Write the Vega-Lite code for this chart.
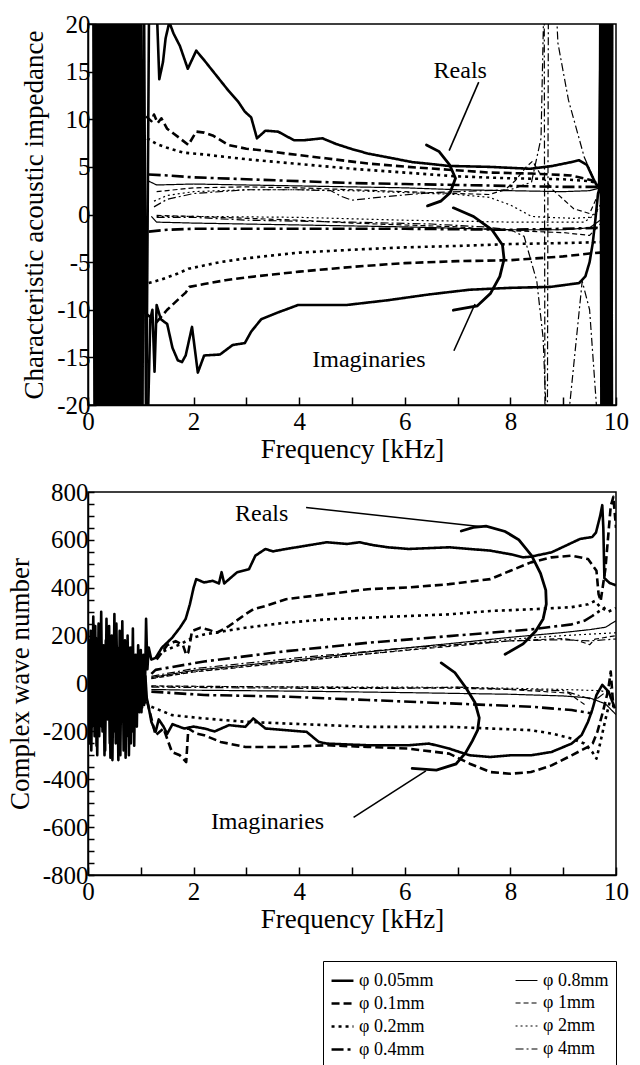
{
"$schema": "https://vega.github.io/schema/vega-lite/v6.json",
"padding": {"left": 5, "top": 11, "right": 5, "bottom": 1},
"background": "white",
"config": {
  "font": "Liberation Serif",
  "view": {"stroke": "black", "strokeWidth": 1.5},
  "axis": {"domainColor": "black", "domainWidth": 1.5, "tickColor": "black", "tickWidth": 1.5, "tickSize": -8, "labelColor": "black", "titleColor": "black", "labelFont": "Liberation Serif", "titleFont": "Liberation Serif", "labelFontSize": 25, "titleFontSize": 27, "titleFontWeight": "normal", "grid": false, "labelOverlap": false, "labelFlush": false}
},
"datasets": {
"z": [
{"d":"0.05","c":"R","f":0.1,"v":25},{"d":"0.05","c":"R","f":0.125,"v":-25},{"d":"0.05","c":"R","f":0.15,"v":25},{"d":"0.05","c":"R","f":0.175,"v":-25},{"d":"0.05","c":"R","f":0.2,"v":25},{"d":"0.05","c":"R","f":0.225,"v":-25},{"d":"0.05","c":"R","f":0.25,"v":25},{"d":"0.05","c":"R","f":0.275,"v":-25},{"d":"0.05","c":"R","f":0.3,"v":25},{"d":"0.05","c":"R","f":0.325,"v":-25},{"d":"0.05","c":"R","f":0.35,"v":25},{"d":"0.05","c":"R","f":0.375,"v":-25},{"d":"0.05","c":"R","f":0.4,"v":25},{"d":"0.05","c":"R","f":0.425,"v":-25},{"d":"0.05","c":"R","f":0.45,"v":25},{"d":"0.05","c":"R","f":0.475,"v":-25},{"d":"0.05","c":"R","f":0.5,"v":25},{"d":"0.05","c":"R","f":0.525,"v":-25},{"d":"0.05","c":"R","f":0.55,"v":25},{"d":"0.05","c":"R","f":0.575,"v":-25},{"d":"0.05","c":"R","f":0.6,"v":25},{"d":"0.05","c":"R","f":0.625,"v":-25},{"d":"0.05","c":"R","f":0.65,"v":25},{"d":"0.05","c":"R","f":0.675,"v":-25},{"d":"0.05","c":"R","f":0.7,"v":25},{"d":"0.05","c":"R","f":0.725,"v":-25},{"d":"0.05","c":"R","f":0.75,"v":25},{"d":"0.05","c":"R","f":0.775,"v":-25},{"d":"0.05","c":"R","f":0.8,"v":25},{"d":"0.05","c":"R","f":0.825,"v":-25},{"d":"0.05","c":"R","f":0.85,"v":25},{"d":"0.05","c":"R","f":0.875,"v":-25},{"d":"0.05","c":"R","f":0.9,"v":25},{"d":"0.05","c":"R","f":0.925,"v":-25},{"d":"0.05","c":"R","f":0.95,"v":25},{"d":"0.05","c":"R","f":0.975,"v":-25},{"d":"0.05","c":"R","f":1.0,"v":25},{"d":"0.05","c":"R","f":1.03,"v":-25},{"d":"0.05","c":"R","f":1.06,"v":25},{"d":"0.05","c":"R","f":1.1,"v":-25},{"d":"0.05","c":"R","f":1.16,"v":25},{"d":"0.05","c":"R","f":1.3,"v":22},{"d":"0.05","c":"R","f":1.35,"v":14.2},{"d":"0.05","c":"R","f":1.42,"v":16},{"d":"0.05","c":"R","f":1.47,"v":18.5},{"d":"0.05","c":"R","f":1.54,"v":20.2},{"d":"0.05","c":"R","f":1.62,"v":19},{"d":"0.05","c":"R","f":1.74,"v":17.7},{"d":"0.05","c":"R","f":1.89,"v":15.3},{"d":"0.05","c":"R","f":2.05,"v":17.2},{"d":"0.05","c":"R","f":2.2,"v":16.2},{"d":"0.05","c":"R","f":2.43,"v":14.6},{"d":"0.05","c":"R","f":2.66,"v":13},{"d":"0.05","c":"R","f":2.85,"v":11.8},{"d":"0.05","c":"R","f":2.97,"v":10.8},{"d":"0.05","c":"R","f":3.09,"v":10.2},{"d":"0.05","c":"R","f":3.2,"v":8},{"d":"0.05","c":"R","f":3.36,"v":8.8},{"d":"0.05","c":"R","f":3.6,"v":8.7},{"d":"0.05","c":"R","f":3.9,"v":7.8},{"d":"0.05","c":"R","f":4.1,"v":7.8},{"d":"0.05","c":"R","f":4.44,"v":8},{"d":"0.05","c":"R","f":4.7,"v":7.4},{"d":"0.05","c":"R","f":4.98,"v":6.9},{"d":"0.05","c":"R","f":5.3,"v":6.4},{"d":"0.05","c":"R","f":5.68,"v":6},{"d":"0.05","c":"R","f":6.14,"v":5.5},{"d":"0.05","c":"R","f":6.5,"v":5.3},{"d":"0.05","c":"R","f":6.83,"v":5.1},{"d":"0.05","c":"R","f":7.6,"v":5},{"d":"0.05","c":"R","f":8.38,"v":4.8},{"d":"0.05","c":"R","f":8.8,"v":5.1},{"d":"0.05","c":"R","f":9.15,"v":5.5},{"d":"0.05","c":"R","f":9.3,"v":5.7},{"d":"0.05","c":"R","f":9.45,"v":5.2},{"d":"0.05","c":"R","f":9.55,"v":4},{"d":"0.05","c":"R","f":9.62,"v":3.2},{"d":"0.05","c":"R","f":9.68,"v":2.8},{"d":"0.05","c":"R","f":9.72,"v":25},{"d":"0.05","c":"R","f":9.735,"v":-25},{"d":"0.05","c":"R","f":9.75,"v":25},{"d":"0.05","c":"R","f":9.765,"v":-25},{"d":"0.05","c":"R","f":9.78,"v":25},{"d":"0.05","c":"R","f":9.795,"v":-25},{"d":"0.05","c":"R","f":9.81,"v":25},{"d":"0.05","c":"R","f":9.825,"v":-25},{"d":"0.05","c":"R","f":9.84,"v":25},{"d":"0.05","c":"R","f":9.855,"v":-25},{"d":"0.05","c":"R","f":9.87,"v":25},{"d":"0.05","c":"R","f":9.885,"v":-25},{"d":"0.05","c":"R","f":9.9,"v":25},{"d":"0.05","c":"R","f":9.915,"v":-25},{"d":"0.05","c":"R","f":9.93,"v":25},
{"d":"0.05","c":"I","f":1.12,"v":-25},{"d":"0.05","c":"I","f":1.18,"v":-11},{"d":"0.05","c":"I","f":1.22,"v":-10},{"d":"0.05","c":"I","f":1.26,"v":-16.5},{"d":"0.05","c":"I","f":1.3,"v":-9.5},{"d":"0.05","c":"I","f":1.38,"v":-11},{"d":"0.05","c":"I","f":1.5,"v":-11.5},{"d":"0.05","c":"I","f":1.6,"v":-14},{"d":"0.05","c":"I","f":1.7,"v":-15.3},{"d":"0.05","c":"I","f":1.78,"v":-15.5},{"d":"0.05","c":"I","f":1.85,"v":-14.8},{"d":"0.05","c":"I","f":1.97,"v":-11.8},{"d":"0.05","c":"I","f":2.08,"v":-16.6},{"d":"0.05","c":"I","f":2.2,"v":-14.8},{"d":"0.05","c":"I","f":2.5,"v":-14.7},{"d":"0.05","c":"I","f":2.74,"v":-13.7},{"d":"0.05","c":"I","f":2.97,"v":-13.5},{"d":"0.05","c":"I","f":3.09,"v":-12.3},{"d":"0.05","c":"I","f":3.28,"v":-11},{"d":"0.05","c":"I","f":3.59,"v":-10.3},{"d":"0.05","c":"I","f":3.98,"v":-9.5},{"d":"0.05","c":"I","f":4.9,"v":-9.5},{"d":"0.05","c":"I","f":5.68,"v":-9},{"d":"0.05","c":"I","f":6.45,"v":-8.4},{"d":"0.05","c":"I","f":7.22,"v":-7.9},{"d":"0.05","c":"I","f":8,"v":-7.7},{"d":"0.05","c":"I","f":8.76,"v":-7.6},{"d":"0.05","c":"I","f":9.3,"v":-7.2},{"d":"0.05","c":"I","f":9.42,"v":-6.5},{"d":"0.05","c":"I","f":9.5,"v":-5},{"d":"0.05","c":"I","f":9.56,"v":-3},{"d":"0.05","c":"I","f":9.61,"v":-0.5},{"d":"0.05","c":"I","f":9.66,"v":2.2},{"d":"0.05","c":"I","f":9.69,"v":2.8},{"d":"0.05","c":"I","f":9.705,"v":25},{"d":"0.05","c":"I","f":9.725,"v":-25},{"d":"0.05","c":"I","f":9.745,"v":25},{"d":"0.05","c":"I","f":9.765,"v":-25},{"d":"0.05","c":"I","f":9.785,"v":25},{"d":"0.05","c":"I","f":9.805,"v":-25},{"d":"0.05","c":"I","f":9.825,"v":25},{"d":"0.05","c":"I","f":9.845,"v":-25},{"d":"0.05","c":"I","f":9.865,"v":25},{"d":"0.05","c":"I","f":9.885,"v":-25},{"d":"0.05","c":"I","f":9.905,"v":25},{"d":"0.05","c":"I","f":9.925,"v":-25},
{"d":"0.1","c":"R","f":1.1,"v":10.3},{"d":"0.1","c":"R","f":1.2,"v":9.8},{"d":"0.1","c":"R","f":1.25,"v":10.5},{"d":"0.1","c":"R","f":1.32,"v":9.6},{"d":"0.1","c":"R","f":1.39,"v":10.1},{"d":"0.1","c":"R","f":1.5,"v":9},{"d":"0.1","c":"R","f":1.62,"v":8.5},{"d":"0.1","c":"R","f":1.74,"v":8},{"d":"0.1","c":"R","f":1.9,"v":7.3},{"d":"0.1","c":"R","f":2.05,"v":8.7},{"d":"0.1","c":"R","f":2.2,"v":8.6},{"d":"0.1","c":"R","f":2.36,"v":8.3},{"d":"0.1","c":"R","f":2.66,"v":7.3},{"d":"0.1","c":"R","f":3,"v":6.9},{"d":"0.1","c":"R","f":3.28,"v":6.75},{"d":"0.1","c":"R","f":3.75,"v":6.4},{"d":"0.1","c":"R","f":4.5,"v":5.9},{"d":"0.1","c":"R","f":5.3,"v":5.35},{"d":"0.1","c":"R","f":6.06,"v":5},{"d":"0.1","c":"R","f":6.83,"v":4.7},{"d":"0.1","c":"R","f":7.6,"v":4.4},{"d":"0.1","c":"R","f":8.4,"v":4.3},{"d":"0.1","c":"R","f":9.15,"v":4.1},{"d":"0.1","c":"R","f":9.54,"v":3.6},{"d":"0.1","c":"R","f":9.7,"v":3},
{"d":"0.1","c":"I","f":1.12,"v":-10.5},{"d":"0.1","c":"I","f":1.3,"v":-11.3},{"d":"0.1","c":"I","f":1.5,"v":-10},{"d":"0.1","c":"I","f":1.75,"v":-8.7},{"d":"0.1","c":"I","f":1.85,"v":-8.2},{"d":"0.1","c":"I","f":1.92,"v":-7.6},{"d":"0.1","c":"I","f":2.2,"v":-7.3},{"d":"0.1","c":"I","f":2.6,"v":-6.9},{"d":"0.1","c":"I","f":3,"v":-6.6},{"d":"0.1","c":"I","f":3.5,"v":-6.3},{"d":"0.1","c":"I","f":4,"v":-6},{"d":"0.1","c":"I","f":5,"v":-5.5},{"d":"0.1","c":"I","f":6,"v":-5.1},{"d":"0.1","c":"I","f":7,"v":-4.9},{"d":"0.1","c":"I","f":8,"v":-4.8},{"d":"0.1","c":"I","f":9,"v":-4.4},{"d":"0.1","c":"I","f":9.5,"v":-4.1},{"d":"0.1","c":"I","f":9.7,"v":-4},
{"d":"0.2","c":"R","f":1.12,"v":8},{"d":"0.2","c":"R","f":1.3,"v":7.4},{"d":"0.2","c":"R","f":1.5,"v":7},{"d":"0.2","c":"R","f":1.8,"v":6.5},{"d":"0.2","c":"R","f":2.2,"v":6.3},{"d":"0.2","c":"R","f":3,"v":5.8},{"d":"0.2","c":"R","f":4,"v":5.3},{"d":"0.2","c":"R","f":5,"v":4.8},{"d":"0.2","c":"R","f":6,"v":4.4},{"d":"0.2","c":"R","f":7,"v":4},{"d":"0.2","c":"R","f":8,"v":3.8},{"d":"0.2","c":"R","f":9,"v":3.7},{"d":"0.2","c":"R","f":9.5,"v":3.5},{"d":"0.2","c":"R","f":9.7,"v":3.2},
{"d":"0.2","c":"I","f":1.15,"v":-7.2},{"d":"0.2","c":"I","f":1.4,"v":-6.8},{"d":"0.2","c":"I","f":1.7,"v":-6.2},{"d":"0.2","c":"I","f":1.9,"v":-5.7},{"d":"0.2","c":"I","f":2.5,"v":-5},{"d":"0.2","c":"I","f":3,"v":-4.6},{"d":"0.2","c":"I","f":4,"v":-4},{"d":"0.2","c":"I","f":5,"v":-3.7},{"d":"0.2","c":"I","f":6,"v":-3.45},{"d":"0.2","c":"I","f":7,"v":-3.3},{"d":"0.2","c":"I","f":8,"v":-3.1},{"d":"0.2","c":"I","f":9,"v":-3},{"d":"0.2","c":"I","f":9.7,"v":-2.9},
{"d":"0.4","c":"R","f":1.15,"v":4.2},{"d":"0.4","c":"R","f":1.5,"v":4.1},{"d":"0.4","c":"R","f":2,"v":3.9},{"d":"0.4","c":"R","f":3,"v":3.7},{"d":"0.4","c":"R","f":4,"v":3.5},{"d":"0.4","c":"R","f":5,"v":3.3},{"d":"0.4","c":"R","f":6,"v":3.2},{"d":"0.4","c":"R","f":7,"v":3.1},{"d":"0.4","c":"R","f":8,"v":3},{"d":"0.4","c":"R","f":9,"v":2.9},{"d":"0.4","c":"R","f":9.7,"v":2.9},
{"d":"0.4","c":"I","f":1.15,"v":-1.8},{"d":"0.4","c":"I","f":1.5,"v":-1.6},{"d":"0.4","c":"I","f":2,"v":-1.5},{"d":"0.4","c":"I","f":4,"v":-1.5},{"d":"0.4","c":"I","f":6,"v":-1.5},{"d":"0.4","c":"I","f":8,"v":-1.6},{"d":"0.4","c":"I","f":9,"v":-1.5},{"d":"0.4","c":"I","f":9.7,"v":-1.4},
{"d":"0.8","c":"R","f":1.15,"v":3.5},{"d":"0.8","c":"R","f":1.3,"v":3.1},{"d":"0.8","c":"R","f":2,"v":3.2},{"d":"0.8","c":"R","f":4,"v":3},{"d":"0.8","c":"R","f":6,"v":2.8},{"d":"0.8","c":"R","f":7,"v":2.6},{"d":"0.8","c":"R","f":8,"v":2.5},{"d":"0.8","c":"R","f":9,"v":2.4},{"d":"0.8","c":"R","f":9.5,"v":2.5},{"d":"0.8","c":"R","f":9.7,"v":2.8},
{"d":"0.8","c":"I","f":1.2,"v":-0.2},{"d":"0.8","c":"I","f":1.3,"v":-0.8},{"d":"0.8","c":"I","f":2,"v":-0.9},{"d":"0.8","c":"I","f":4,"v":-1.1},{"d":"0.8","c":"I","f":6,"v":-1.3},{"d":"0.8","c":"I","f":8,"v":-1.6},{"d":"0.8","c":"I","f":9,"v":-1.6},{"d":"0.8","c":"I","f":9.5,"v":-1.4},{"d":"0.8","c":"I","f":9.7,"v":-0.6},
{"d":"1","c":"R","f":1.3,"v":2.4},{"d":"1","c":"R","f":2,"v":2.8},{"d":"1","c":"R","f":3,"v":2.9},{"d":"1","c":"R","f":4,"v":2.8},{"d":"1","c":"R","f":5,"v":2.6},{"d":"1","c":"R","f":6,"v":2.4},{"d":"1","c":"R","f":7,"v":2.2},{"d":"1","c":"R","f":7.6,"v":2.1},{"d":"1","c":"R","f":7.9,"v":2.6},{"d":"1","c":"R","f":8.1,"v":3.6},{"d":"1","c":"R","f":8.3,"v":5},{"d":"1","c":"R","f":8.42,"v":5.6},{"d":"1","c":"R","f":8.55,"v":4.4},{"d":"1","c":"R","f":8.8,"v":2.6},{"d":"1","c":"R","f":9.2,"v":0.6},{"d":"1","c":"R","f":9.5,"v":0.1},{"d":"1","c":"R","f":9.7,"v":2.6},
{"d":"1","c":"I","f":1.3,"v":-0.1},{"d":"1","c":"I","f":2,"v":-0.2},{"d":"1","c":"I","f":3,"v":-0.4},{"d":"1","c":"I","f":4,"v":-0.6},{"d":"1","c":"I","f":5,"v":-0.9},{"d":"1","c":"I","f":6,"v":-1.1},{"d":"1","c":"I","f":7,"v":-1.3},{"d":"1","c":"I","f":7.5,"v":-1.5},{"d":"1","c":"I","f":8,"v":-1.7},{"d":"1","c":"I","f":9,"v":-1.9},{"d":"1","c":"I","f":9.5,"v":-2.2},{"d":"1","c":"I","f":9.7,"v":-1},
{"d":"2","c":"R","f":1.25,"v":1.4},{"d":"2","c":"R","f":1.5,"v":2},{"d":"2","c":"R","f":2,"v":2.4},{"d":"2","c":"R","f":3,"v":2.6},{"d":"2","c":"R","f":4,"v":2.6},{"d":"2","c":"R","f":5,"v":2.5},{"d":"2","c":"R","f":6,"v":2.3},{"d":"2","c":"R","f":7,"v":2.1},{"d":"2","c":"R","f":7.6,"v":1.8},{"d":"2","c":"R","f":8,"v":1},{"d":"2","c":"R","f":8.2,"v":0.4},{"d":"2","c":"R","f":8.4,"v":-0.2},{"d":"2","c":"R","f":8.7,"v":-0.3},{"d":"2","c":"R","f":9.2,"v":-0.4},{"d":"2","c":"R","f":9.5,"v":-0.3},{"d":"2","c":"R","f":9.7,"v":0.6},
{"d":"2","c":"I","f":1.3,"v":-0.2},{"d":"2","c":"I","f":2,"v":-0.2},{"d":"2","c":"I","f":4,"v":-0.3},{"d":"2","c":"I","f":6,"v":-0.6},{"d":"2","c":"I","f":7,"v":-0.7},{"d":"2","c":"I","f":8,"v":-0.8},{"d":"2","c":"I","f":9,"v":-0.8},{"d":"2","c":"I","f":9.4,"v":-0.8},{"d":"2","c":"I","f":9.6,"v":0},{"d":"2","c":"I","f":9.7,"v":1},
{"d":"4","c":"R","f":1.25,"v":0.8},{"d":"4","c":"R","f":1.5,"v":1.6},{"d":"4","c":"R","f":2,"v":2.2},{"d":"4","c":"R","f":3,"v":2.6},{"d":"4","c":"R","f":4,"v":2.6},{"d":"4","c":"R","f":4.6,"v":2.5},{"d":"4","c":"R","f":4.8,"v":1.9},{"d":"4","c":"R","f":5,"v":1.5},{"d":"4","c":"R","f":5.5,"v":1.8},{"d":"4","c":"R","f":6.5,"v":2.3},{"d":"4","c":"R","f":7.5,"v":2.5},{"d":"4","c":"R","f":8,"v":2.6},{"d":"4","c":"R","f":8.4,"v":3.4},{"d":"4","c":"R","f":8.58,"v":8},{"d":"4","c":"R","f":8.64,"v":24},{"d":"4","c":"R","f":8.655,"v":-24},{"d":"4","c":"R","f":9.05,"v":-24},{"d":"4","c":"R","f":9.36,"v":-7},{"d":"4","c":"R","f":9.5,"v":-10},{"d":"4","c":"R","f":9.68,"v":-24},
{"d":"4","c":"I","f":1.3,"v":-0.3},{"d":"4","c":"I","f":2,"v":-0.3},{"d":"4","c":"I","f":3,"v":-0.6},{"d":"4","c":"I","f":5,"v":-0.8},{"d":"4","c":"I","f":6.5,"v":-1},{"d":"4","c":"I","f":7.5,"v":-1.3},{"d":"4","c":"I","f":8,"v":-1.6},{"d":"4","c":"I","f":8.26,"v":-2.3},{"d":"4","c":"I","f":8.5,"v":-7},{"d":"4","c":"I","f":8.62,"v":-13},{"d":"4","c":"I","f":8.7,"v":-24},{"d":"4","c":"I","f":8.72,"v":24},{"d":"4","c":"I","f":8.85,"v":24},{"d":"4","c":"I","f":8.9,"v":18},{"d":"4","c":"I","f":9.1,"v":12},{"d":"4","c":"I","f":9.4,"v":6},{"d":"4","c":"I","f":9.6,"v":3.5},{"d":"4","c":"I","f":9.72,"v":3}
],
"k": [
{"d":"0.05","c":"R","f":0,"v":150},{"d":"0.05","c":"R","f":0.025,"v":-250},{"d":"0.05","c":"R","f":0.05,"v":220},{"d":"0.05","c":"R","f":0.075,"v":-180},{"d":"0.05","c":"R","f":0.1,"v":280},{"d":"0.05","c":"R","f":0.125,"v":-220},{"d":"0.05","c":"R","f":0.15,"v":190},{"d":"0.05","c":"R","f":0.175,"v":-300},{"d":"0.05","c":"R","f":0.2,"v":250},{"d":"0.05","c":"R","f":0.225,"v":-120},{"d":"0.05","c":"R","f":0.25,"v":300},{"d":"0.05","c":"R","f":0.275,"v":-200},{"d":"0.05","c":"R","f":0.3,"v":160},{"d":"0.05","c":"R","f":0.325,"v":-280},{"d":"0.05","c":"R","f":0.35,"v":270},{"d":"0.05","c":"R","f":0.375,"v":-150},{"d":"0.05","c":"R","f":0.4,"v":240},{"d":"0.05","c":"R","f":0.425,"v":-310},{"d":"0.05","c":"R","f":0.45,"v":200},{"d":"0.05","c":"R","f":0.475,"v":-180},{"d":"0.05","c":"R","f":0.5,"v":290},{"d":"0.05","c":"R","f":0.525,"v":-250},{"d":"0.05","c":"R","f":0.55,"v":150},{"d":"0.05","c":"R","f":0.575,"v":-320},{"d":"0.05","c":"R","f":0.6,"v":220},{"d":"0.05","c":"R","f":0.625,"v":-140},{"d":"0.05","c":"R","f":0.65,"v":260},{"d":"0.05","c":"R","f":0.675,"v":-280},{"d":"0.05","c":"R","f":0.7,"v":180},{"d":"0.05","c":"R","f":0.725,"v":-220},{"d":"0.05","c":"R","f":0.75,"v":200},{"d":"0.05","c":"R","f":0.775,"v":-300},{"d":"0.05","c":"R","f":0.8,"v":150},{"d":"0.05","c":"R","f":0.825,"v":-200},{"d":"0.05","c":"R","f":0.85,"v":230},{"d":"0.05","c":"R","f":0.875,"v":-260},{"d":"0.05","c":"R","f":0.9,"v":120},{"d":"0.05","c":"R","f":0.925,"v":-180},{"d":"0.05","c":"R","f":0.95,"v":160},{"d":"0.05","c":"R","f":0.975,"v":-120},{"d":"0.05","c":"R","f":1,"v":140},{"d":"0.05","c":"R","f":1.025,"v":-100},{"d":"0.05","c":"R","f":1.05,"v":120},{"d":"0.05","c":"R","f":1.075,"v":-80},{"d":"0.05","c":"R","f":1.1,"v":270},{"d":"0.05","c":"R","f":1.125,"v":60},{"d":"0.05","c":"R","f":1.15,"v":150},{"d":"0.05","c":"R","f":1.2,"v":100},{"d":"0.05","c":"R","f":1.28,"v":107},{"d":"0.05","c":"R","f":1.4,"v":150},{"d":"0.05","c":"R","f":1.59,"v":190},{"d":"0.05","c":"R","f":1.74,"v":233},{"d":"0.05","c":"R","f":1.85,"v":270},{"d":"0.05","c":"R","f":1.93,"v":331},{"d":"0.05","c":"R","f":2,"v":400},{"d":"0.05","c":"R","f":2.05,"v":436},{"d":"0.05","c":"R","f":2.2,"v":422},{"d":"0.05","c":"R","f":2.36,"v":429},{"d":"0.05","c":"R","f":2.48,"v":418},{"d":"0.05","c":"R","f":2.53,"v":465},{"d":"0.05","c":"R","f":2.58,"v":418},{"d":"0.05","c":"R","f":2.82,"v":464},{"d":"0.05","c":"R","f":3.05,"v":478},{"d":"0.05","c":"R","f":3.17,"v":534},{"d":"0.05","c":"R","f":3.36,"v":562},{"d":"0.05","c":"R","f":3.5,"v":552},{"d":"0.05","c":"R","f":3.75,"v":562},{"d":"0.05","c":"R","f":4.14,"v":576},{"d":"0.05","c":"R","f":4.52,"v":590},{"d":"0.05","c":"R","f":4.91,"v":583},{"d":"0.05","c":"R","f":5.14,"v":590},{"d":"0.05","c":"R","f":5.4,"v":578},{"d":"0.05","c":"R","f":5.68,"v":569},{"d":"0.05","c":"R","f":6.07,"v":562},{"d":"0.05","c":"R","f":6.84,"v":569},{"d":"0.05","c":"R","f":7.62,"v":555},{"d":"0.05","c":"R","f":8,"v":540},{"d":"0.05","c":"R","f":8.24,"v":527},{"d":"0.05","c":"R","f":8.39,"v":530},{"d":"0.05","c":"R","f":8.78,"v":548},{"d":"0.05","c":"R","f":9.32,"v":604},{"d":"0.05","c":"R","f":9.55,"v":612},{"d":"0.05","c":"R","f":9.62,"v":630},{"d":"0.05","c":"R","f":9.7,"v":700},{"d":"0.05","c":"R","f":9.74,"v":745},{"d":"0.05","c":"R","f":9.76,"v":650},{"d":"0.05","c":"R","f":9.78,"v":440},{"d":"0.05","c":"R","f":9.88,"v":420},{"d":"0.05","c":"R","f":10,"v":410},
{"d":"0.05","c":"I","f":0.0125,"v":-200},{"d":"0.05","c":"I","f":0.0375,"v":180},{"d":"0.05","c":"I","f":0.0625,"v":-280},{"d":"0.05","c":"I","f":0.0875,"v":120},{"d":"0.05","c":"I","f":0.1125,"v":-150},{"d":"0.05","c":"I","f":0.1375,"v":240},{"d":"0.05","c":"I","f":0.1625,"v":-260},{"d":"0.05","c":"I","f":0.1875,"v":100},{"d":"0.05","c":"I","f":0.2125,"v":-220},{"d":"0.05","c":"I","f":0.2375,"v":200},{"d":"0.05","c":"I","f":0.2625,"v":-180},{"d":"0.05","c":"I","f":0.2875,"v":130},{"d":"0.05","c":"I","f":0.3125,"v":-300},{"d":"0.05","c":"I","f":0.3375,"v":180},{"d":"0.05","c":"I","f":0.3625,"v":-120},{"d":"0.05","c":"I","f":0.3875,"v":220},{"d":"0.05","c":"I","f":0.4125,"v":-250},{"d":"0.05","c":"I","f":0.4375,"v":90},{"d":"0.05","c":"I","f":0.4625,"v":-320},{"d":"0.05","c":"I","f":0.4875,"v":160},{"d":"0.05","c":"I","f":0.5125,"v":-200},{"d":"0.05","c":"I","f":0.5375,"v":250},{"d":"0.05","c":"I","f":0.5625,"v":-150},{"d":"0.05","c":"I","f":0.5875,"v":110},{"d":"0.05","c":"I","f":0.6125,"v":-300},{"d":"0.05","c":"I","f":0.6375,"v":200},{"d":"0.05","c":"I","f":0.6625,"v":-160},{"d":"0.05","c":"I","f":0.6875,"v":140},{"d":"0.05","c":"I","f":0.7125,"v":-310},{"d":"0.05","c":"I","f":0.7375,"v":170},{"d":"0.05","c":"I","f":0.7625,"v":-140},{"d":"0.05","c":"I","f":0.7875,"v":100},{"d":"0.05","c":"I","f":0.8125,"v":-250},{"d":"0.05","c":"I","f":0.8375,"v":150},{"d":"0.05","c":"I","f":0.8625,"v":-200},{"d":"0.05","c":"I","f":0.8875,"v":90},{"d":"0.05","c":"I","f":0.9125,"v":-150},{"d":"0.05","c":"I","f":0.9375,"v":120},{"d":"0.05","c":"I","f":0.9625,"v":-100},{"d":"0.05","c":"I","f":0.9875,"v":80},{"d":"0.05","c":"I","f":1.0125,"v":-120},{"d":"0.05","c":"I","f":1.0375,"v":60},{"d":"0.05","c":"I","f":1.0625,"v":-90},{"d":"0.05","c":"I","f":1.0875,"v":30},{"d":"0.05","c":"I","f":1.1125,"v":-60},{"d":"0.05","c":"I","f":1.15,"v":-100},{"d":"0.05","c":"I","f":1.2,"v":-160},{"d":"0.05","c":"I","f":1.28,"v":-202},{"d":"0.05","c":"I","f":1.34,"v":-150},{"d":"0.05","c":"I","f":1.43,"v":-180},{"d":"0.05","c":"I","f":1.5,"v":-210},{"d":"0.05","c":"I","f":1.6,"v":-170},{"d":"0.05","c":"I","f":1.82,"v":-188},{"d":"0.05","c":"I","f":2,"v":-180},{"d":"0.05","c":"I","f":2.2,"v":-188},{"d":"0.05","c":"I","f":2.4,"v":-200},{"d":"0.05","c":"I","f":2.67,"v":-174},{"d":"0.05","c":"I","f":2.98,"v":-181},{"d":"0.05","c":"I","f":3.13,"v":-146},{"d":"0.05","c":"I","f":3.36,"v":-188},{"d":"0.05","c":"I","f":3.75,"v":-195},{"d":"0.05","c":"I","f":4.14,"v":-202},{"d":"0.05","c":"I","f":4.37,"v":-244},{"d":"0.05","c":"I","f":4.52,"v":-251},{"d":"0.05","c":"I","f":5.3,"v":-258},{"d":"0.05","c":"I","f":6.07,"v":-258},{"d":"0.05","c":"I","f":6.46,"v":-251},{"d":"0.05","c":"I","f":6.84,"v":-272},{"d":"0.05","c":"I","f":7.23,"v":-300},{"d":"0.05","c":"I","f":7.62,"v":-307},{"d":"0.05","c":"I","f":8,"v":-300},{"d":"0.05","c":"I","f":8.39,"v":-300},{"d":"0.05","c":"I","f":8.78,"v":-286},{"d":"0.05","c":"I","f":9.16,"v":-251},{"d":"0.05","c":"I","f":9.35,"v":-215},{"d":"0.05","c":"I","f":9.47,"v":-160},{"d":"0.05","c":"I","f":9.55,"v":-110},{"d":"0.05","c":"I","f":9.63,"v":-48},{"d":"0.05","c":"I","f":9.74,"v":-6},{"d":"0.05","c":"I","f":9.86,"v":-34},{"d":"0.05","c":"I","f":9.98,"v":-104},
{"d":"0.1","c":"R","f":1.3,"v":100},{"d":"0.1","c":"R","f":1.5,"v":160},{"d":"0.1","c":"R","f":1.66,"v":177},{"d":"0.1","c":"R","f":1.8,"v":160},{"d":"0.1","c":"R","f":1.86,"v":120},{"d":"0.1","c":"R","f":1.9,"v":130},{"d":"0.1","c":"R","f":1.97,"v":219},{"d":"0.1","c":"R","f":2.13,"v":233},{"d":"0.1","c":"R","f":2.28,"v":225},{"d":"0.1","c":"R","f":2.44,"v":212},{"d":"0.1","c":"R","f":2.67,"v":240},{"d":"0.1","c":"R","f":2.98,"v":289},{"d":"0.1","c":"R","f":3.13,"v":310},{"d":"0.1","c":"R","f":3.36,"v":324},{"d":"0.1","c":"R","f":3.75,"v":352},{"d":"0.1","c":"R","f":4.52,"v":373},{"d":"0.1","c":"R","f":5.3,"v":394},{"d":"0.1","c":"R","f":6.07,"v":401},{"d":"0.1","c":"R","f":6.84,"v":415},{"d":"0.1","c":"R","f":7.62,"v":436},{"d":"0.1","c":"R","f":8,"v":471},{"d":"0.1","c":"R","f":8.39,"v":506},{"d":"0.1","c":"R","f":8.78,"v":527},{"d":"0.1","c":"R","f":9.16,"v":534},{"d":"0.1","c":"R","f":9.47,"v":520},{"d":"0.1","c":"R","f":9.63,"v":471},{"d":"0.1","c":"R","f":9.67,"v":373},{"d":"0.1","c":"R","f":9.71,"v":345},{"d":"0.1","c":"R","f":9.8,"v":480},{"d":"0.1","c":"R","f":9.9,"v":740},{"d":"0.1","c":"R","f":9.95,"v":780},{"d":"0.1","c":"R","f":10,"v":650},
{"d":"0.1","c":"I","f":1.12,"v":-75},{"d":"0.1","c":"I","f":1.28,"v":-216},{"d":"0.1","c":"I","f":1.43,"v":-188},{"d":"0.1","c":"I","f":1.59,"v":-286},{"d":"0.1","c":"I","f":1.74,"v":-300},{"d":"0.1","c":"I","f":1.86,"v":-328},{"d":"0.1","c":"I","f":1.9,"v":-188},{"d":"0.1","c":"I","f":2.05,"v":-209},{"d":"0.1","c":"I","f":2.2,"v":-216},{"d":"0.1","c":"I","f":2.51,"v":-244},{"d":"0.1","c":"I","f":2.98,"v":-265},{"d":"0.1","c":"I","f":3.75,"v":-265},{"d":"0.1","c":"I","f":4.52,"v":-258},{"d":"0.1","c":"I","f":5.3,"v":-265},{"d":"0.1","c":"I","f":6.07,"v":-272},{"d":"0.1","c":"I","f":6.84,"v":-293},{"d":"0.1","c":"I","f":7.23,"v":-335},{"d":"0.1","c":"I","f":7.62,"v":-370},{"d":"0.1","c":"I","f":8,"v":-377},{"d":"0.1","c":"I","f":8.39,"v":-370},{"d":"0.1","c":"I","f":8.78,"v":-342},{"d":"0.1","c":"I","f":9.16,"v":-300},{"d":"0.1","c":"I","f":9.47,"v":-265},{"d":"0.1","c":"I","f":9.56,"v":-250},{"d":"0.1","c":"I","f":9.65,"v":-200},{"d":"0.1","c":"I","f":9.75,"v":-120},{"d":"0.1","c":"I","f":9.85,"v":-30},{"d":"0.1","c":"I","f":9.9,"v":50},{"d":"0.1","c":"I","f":9.95,"v":-100},
{"d":"0.2","c":"R","f":1.43,"v":135},{"d":"0.2","c":"R","f":1.74,"v":163},{"d":"0.2","c":"R","f":1.97,"v":190},{"d":"0.2","c":"R","f":2.2,"v":205},{"d":"0.2","c":"R","f":2.59,"v":219},{"d":"0.2","c":"R","f":2.98,"v":233},{"d":"0.2","c":"R","f":3.75,"v":254},{"d":"0.2","c":"R","f":4.52,"v":268},{"d":"0.2","c":"R","f":5.3,"v":275},{"d":"0.2","c":"R","f":6.07,"v":282},{"d":"0.2","c":"R","f":6.84,"v":289},{"d":"0.2","c":"R","f":7.62,"v":303},{"d":"0.2","c":"R","f":8.39,"v":310},{"d":"0.2","c":"R","f":9.16,"v":319},{"d":"0.2","c":"R","f":9.47,"v":331},{"d":"0.2","c":"R","f":9.6,"v":345},{"d":"0.2","c":"R","f":9.7,"v":320},{"d":"0.2","c":"R","f":9.85,"v":300},{"d":"0.2","c":"R","f":10,"v":315},
{"d":"0.2","c":"I","f":1.2,"v":-97},{"d":"0.2","c":"I","f":1.59,"v":-132},{"d":"0.2","c":"I","f":2.2,"v":-146},{"d":"0.2","c":"I","f":2.98,"v":-160},{"d":"0.2","c":"I","f":3.75,"v":-167},{"d":"0.2","c":"I","f":4.52,"v":-174},{"d":"0.2","c":"I","f":5.3,"v":-181},{"d":"0.2","c":"I","f":6.07,"v":-181},{"d":"0.2","c":"I","f":6.84,"v":-181},{"d":"0.2","c":"I","f":7.62,"v":-188},{"d":"0.2","c":"I","f":8.39,"v":-195},{"d":"0.2","c":"I","f":8.78,"v":-209},{"d":"0.2","c":"I","f":9.16,"v":-230},{"d":"0.2","c":"I","f":9.4,"v":-251},{"d":"0.2","c":"I","f":9.55,"v":-286},{"d":"0.2","c":"I","f":9.63,"v":-314},{"d":"0.2","c":"I","f":9.7,"v":-250},{"d":"0.2","c":"I","f":9.8,"v":-150},{"d":"0.2","c":"I","f":9.9,"v":-60},
{"d":"0.4","c":"R","f":1.2,"v":40},{"d":"0.4","c":"R","f":1.28,"v":57},{"d":"0.4","c":"R","f":2.2,"v":92},{"d":"0.4","c":"R","f":3.75,"v":135},{"d":"0.4","c":"R","f":5.3,"v":170},{"d":"0.4","c":"R","f":6.84,"v":198},{"d":"0.4","c":"R","f":8.39,"v":226},{"d":"0.4","c":"R","f":9.16,"v":247},{"d":"0.4","c":"R","f":9.4,"v":262},{"d":"0.4","c":"R","f":9.55,"v":282},{"d":"0.4","c":"R","f":9.7,"v":305},{"d":"0.4","c":"R","f":9.8,"v":318},
{"d":"0.4","c":"I","f":1.2,"v":-34},{"d":"0.4","c":"I","f":2.2,"v":-48},{"d":"0.4","c":"I","f":3.75,"v":-55},{"d":"0.4","c":"I","f":5.3,"v":-69},{"d":"0.4","c":"I","f":6.84,"v":-83},{"d":"0.4","c":"I","f":8.39,"v":-97},{"d":"0.4","c":"I","f":9.16,"v":-111},{"d":"0.4","c":"I","f":9.55,"v":-125},
{"d":"0.8","c":"R","f":1.2,"v":25},{"d":"0.8","c":"R","f":2,"v":55},{"d":"0.8","c":"R","f":3,"v":77},{"d":"0.8","c":"R","f":4,"v":100},{"d":"0.8","c":"R","f":5,"v":125},{"d":"0.8","c":"R","f":6,"v":148},{"d":"0.8","c":"R","f":7,"v":170},{"d":"0.8","c":"R","f":8,"v":193},{"d":"0.8","c":"R","f":9,"v":213},{"d":"0.8","c":"R","f":9.5,"v":225},{"d":"0.8","c":"R","f":9.8,"v":235},{"d":"0.8","c":"R","f":10,"v":262},
{"d":"0.8","c":"I","f":1.2,"v":-25},{"d":"0.8","c":"I","f":2,"v":-28},{"d":"0.8","c":"I","f":4,"v":-32},{"d":"0.8","c":"I","f":6,"v":-38},{"d":"0.8","c":"I","f":8,"v":-45},{"d":"0.8","c":"I","f":9,"v":-52},{"d":"0.8","c":"I","f":9.5,"v":-60},{"d":"0.8","c":"I","f":9.8,"v":-85},{"d":"0.8","c":"I","f":10,"v":-130},
{"d":"1","c":"R","f":1.2,"v":20},{"d":"1","c":"R","f":2,"v":48},{"d":"1","c":"R","f":3,"v":70},{"d":"1","c":"R","f":4,"v":93},{"d":"1","c":"R","f":5,"v":117},{"d":"1","c":"R","f":6,"v":138},{"d":"1","c":"R","f":7,"v":158},{"d":"1","c":"R","f":8,"v":178},{"d":"1","c":"R","f":9,"v":188},{"d":"1","c":"R","f":9.3,"v":178},{"d":"1","c":"R","f":9.5,"v":162},{"d":"1","c":"R","f":9.6,"v":185},{"d":"1","c":"R","f":10,"v":200},
{"d":"1","c":"I","f":1.2,"v":-10},{"d":"1","c":"I","f":4,"v":-15},{"d":"1","c":"I","f":7,"v":-20},{"d":"1","c":"I","f":8,"v":-25},{"d":"1","c":"I","f":9.1,"v":-40},{"d":"1","c":"I","f":9.45,"v":-95},
{"d":"2","c":"R","f":1.2,"v":22},{"d":"2","c":"R","f":2,"v":50},{"d":"2","c":"R","f":4,"v":95},{"d":"2","c":"R","f":6,"v":140},{"d":"2","c":"R","f":8,"v":185},{"d":"2","c":"R","f":9,"v":200},{"d":"2","c":"R","f":10,"v":212},
{"d":"2","c":"I","f":1.2,"v":-12},{"d":"2","c":"I","f":4,"v":-14},{"d":"2","c":"I","f":7,"v":-16},{"d":"2","c":"I","f":8,"v":-20},{"d":"2","c":"I","f":9,"v":-25},{"d":"2","c":"I","f":9.7,"v":-30},{"d":"2","c":"I","f":10,"v":-45},
{"d":"4","c":"R","f":1.2,"v":30},{"d":"4","c":"R","f":2,"v":62},{"d":"4","c":"R","f":4,"v":108},{"d":"4","c":"R","f":6,"v":148},{"d":"4","c":"R","f":8,"v":178},{"d":"4","c":"R","f":9,"v":183},{"d":"4","c":"R","f":9.5,"v":178},{"d":"4","c":"R","f":10,"v":186},
{"d":"4","c":"I","f":1.2,"v":-15},{"d":"4","c":"I","f":4,"v":-20},{"d":"4","c":"I","f":6,"v":-20},{"d":"4","c":"I","f":7,"v":-15},{"d":"4","c":"I","f":8,"v":-24},{"d":"4","c":"I","f":9,"v":-30},{"d":"4","c":"I","f":9.6,"v":-70},{"d":"4","c":"I","f":9.9,"v":-20}
],
"zArc": [
{"g":"R","f":6.41,"v":7.3},{"g":"R","f":6.65,"v":6.6},{"g":"R","f":6.85,"v":5.2},{"g":"R","f":6.96,"v":3.8},{"g":"R","f":6.86,"v":2.3},{"g":"R","f":6.68,"v":1.4},{"g":"R","f":6.43,"v":0.9},
{"g":"I","f":6.92,"v":0.7},{"g":"I","f":7.3,"v":-0.2},{"g":"I","f":7.65,"v":-1.6},{"g":"I","f":7.85,"v":-3.2},{"g":"I","f":7.88,"v":-4.7},{"g":"I","f":7.8,"v":-6.5},{"g":"I","f":7.62,"v":-8.3},{"g":"I","f":7.37,"v":-9.6},{"g":"I","f":6.92,"v":-10.05}
],
"zLead": [
{"g":"R","f":7.4,"v":13.9},{"g":"R","f":6.84,"v":6.7},
{"g":"I","f":6.93,"v":-14.3},{"g":"I","f":7.33,"v":-9.4}
],
"zText": [
{"t":"Reals","f":7.05,"v":15.1},{"t":"Imaginaries","f":5.32,"v":-15.3}
],
"kArc": [
{"g":"R","f":7.07,"v":637},{"g":"R","f":7.3,"v":652},{"g":"R","f":7.54,"v":657},{"g":"R","f":7.9,"v":635},{"g":"R","f":8.16,"v":600},{"g":"R","f":8.4,"v":535},{"g":"R","f":8.57,"v":460},{"g":"R","f":8.67,"v":390},{"g":"R","f":8.68,"v":332},{"g":"R","f":8.62,"v":270},{"g":"R","f":8.48,"v":219},{"g":"R","f":8.24,"v":165},{"g":"R","f":7.9,"v":122},
{"g":"I","f":6.69,"v":86},{"g":"I","f":6.95,"v":45},{"g":"I","f":7.16,"v":-19},{"g":"I","f":7.33,"v":-80},{"g":"I","f":7.41,"v":-144},{"g":"I","f":7.38,"v":-195},{"g":"I","f":7.28,"v":-240},{"g":"I","f":7.15,"v":-290},{"g":"I","f":6.97,"v":-336},{"g":"I","f":6.6,"v":-362},{"g":"I","f":6.14,"v":-355}
],
"kLead": [
{"g":"R","f":4.13,"v":735},{"g":"R","f":7.46,"v":655},
{"g":"I","f":5.03,"v":-559},{"g":"I","f":6.4,"v":-365}
],
"kText": [
{"t":"Reals","f":3.29,"v":708},{"t":"Imaginaries","f":3.4,"v":-580}
]
},
"spacing": 87,
"bounds": "flush",
"resolve": {"scale": {"strokeDash": "independent", "strokeWidth": "independent"}, "legend": {"strokeDash": "independent", "strokeWidth": "independent"}},
"vconcat": [
{
  "width": 528, "height": 381,
  "encoding": {
    "x": {"field": "f", "type": "quantitative", "scale": {"domain": [0, 10], "nice": false, "zero": false}, "axis": {"title": "Frequency [kHz]", "values": [0,1,2,3,4,5,6,7,8,9,10], "labelExpr": "datum.value % 2 ? '' : '' + datum.value", "labelPadding": 12, "titlePadding": 2}},
    "y": {"field": "v", "type": "quantitative", "scale": {"domain": [-20, 20], "nice": false, "zero": false}, "axis": {"title": "Characteristic acoustic impedance", "values": [-20,-15,-10,-5,0,5,10,15,20], "labelExpr": "'' + datum.value", "labelPadding": 6, "titlePadding": 8}}
  },
  "layer": [
    {"data": {"name": "z"}, "mark": {"type": "line", "clip": true, "strokeJoin": "round", "color": "black"},
     "encoding": {
       "strokeDash": {"field": "d", "type": "nominal", "scale": {"domain": ["0.05","0.1","0.2","0.4","0.8","1","2","4"], "range": [[1,0],[8,4],[3,4],[12,4,3,4],[1,0],[5,3],[2,3],[8,3,2,3]]}, "legend": null},
       "strokeWidth": {"field": "d", "type": "nominal", "scale": {"type": "ordinal", "domain": ["0.05","0.1","0.2","0.4","0.8","1","2","4"], "range": [2.6,2.6,2.6,2.6,1.2,1.2,1.2,1.2]}, "legend": null},
       "detail": {"field": "c"},
       "order": {"value": null}
     }},
    {"data": {"name": "zArc"}, "mark": {"type": "line", "strokeWidth": 2.8, "color": "black", "strokeCap": "round"}, "encoding": {"detail": {"field": "g"}, "order": {"value": null}}},
    {"data": {"name": "zLead"}, "mark": {"type": "line", "strokeWidth": 1.6, "color": "black"}, "encoding": {"detail": {"field": "g"}, "order": {"value": null}}},
    {"data": {"name": "zText"}, "mark": {"type": "text", "fontSize": 24, "font": "Liberation Serif", "color": "black", "align": "center", "baseline": "middle"}, "encoding": {"text": {"field": "t"}}}
  ]
},
{
  "width": 528, "height": 383,
  "encoding": {
    "x": {"field": "f", "type": "quantitative", "scale": {"domain": [0, 10], "nice": false, "zero": false}, "axis": {"title": "Frequency [kHz]", "values": [0,1,2,3,4,5,6,7,8,9,10], "labelExpr": "datum.value % 2 ? '' : '' + datum.value", "labelPadding": 12, "titlePadding": 2}},
    "y": {"field": "v", "type": "quantitative", "scale": {"domain": [-800, 800], "nice": false, "zero": false}, "axis": {"title": "Complex wave number", "values": [-800,-750,-700,-650,-600,-550,-500,-450,-400,-350,-300,-250,-200,-150,-100,-50,0,50,100,150,200,250,300,350,400,450,500,550,600,650,700,750,800], "labelExpr": "datum.value % 200 ? '' : '' + datum.value", "labelPadding": 6, "titlePadding": 8, "tickSize": -6}}
  },
  "layer": [
    {"data": {"name": "k"}, "mark": {"type": "line", "clip": true, "strokeJoin": "round", "color": "black"},
     "encoding": {
       "strokeDash": {"field": "d", "type": "nominal", "scale": {"domain": ["0.05","0.1","0.2","0.4","0.8","1","2","4"], "range": [[1,0],[8,4],[3,4],[12,4,3,4],[1,0],[5,3],[2,3],[8,3,2,3]]},
         "legend": {"orient": "none", "legendX": 235, "legendY": 469, "title": null, "columns": 2, "gridAlign": "all", "columnPadding": 79, "rowPadding": 1, "padding": 7, "strokeColor": "black", "symbolType": "stroke", "symbolSize": 480, "symbolStrokeColor": "black", "labelFont": "Liberation Serif", "labelFontSize": 18, "labelColor": "black", "labelOffset": 4, "labelExpr": "'φ ' + datum.label + 'mm'"}},
       "strokeWidth": {"field": "d", "type": "nominal", "scale": {"type": "ordinal", "domain": ["0.05","0.1","0.2","0.4","0.8","1","2","4"], "range": [2.6,2.6,2.6,2.6,1.2,1.2,1.2,1.2]},
         "legend": {"orient": "none", "legendX": 235, "legendY": 469, "title": null, "columns": 2, "gridAlign": "all", "columnPadding": 79, "rowPadding": 1, "padding": 7, "strokeColor": "black", "symbolType": "stroke", "symbolSize": 480, "symbolStrokeColor": "black", "labelFont": "Liberation Serif", "labelFontSize": 18, "labelColor": "black", "labelOffset": 4, "labelExpr": "'φ ' + datum.label + 'mm'"}},
       "detail": {"field": "c"},
       "order": {"value": null}
     }},
    {"data": {"name": "kArc"}, "mark": {"type": "line", "strokeWidth": 2.8, "color": "black", "strokeCap": "round"}, "encoding": {"detail": {"field": "g"}, "order": {"value": null}}},
    {"data": {"name": "kLead"}, "mark": {"type": "line", "strokeWidth": 1.6, "color": "black"}, "encoding": {"detail": {"field": "g"}, "order": {"value": null}}},
    {"data": {"name": "kText"}, "mark": {"type": "text", "fontSize": 24, "font": "Liberation Serif", "color": "black", "align": "center", "baseline": "middle"}, "encoding": {"text": {"field": "t"}}}
  ]
}
]
}
